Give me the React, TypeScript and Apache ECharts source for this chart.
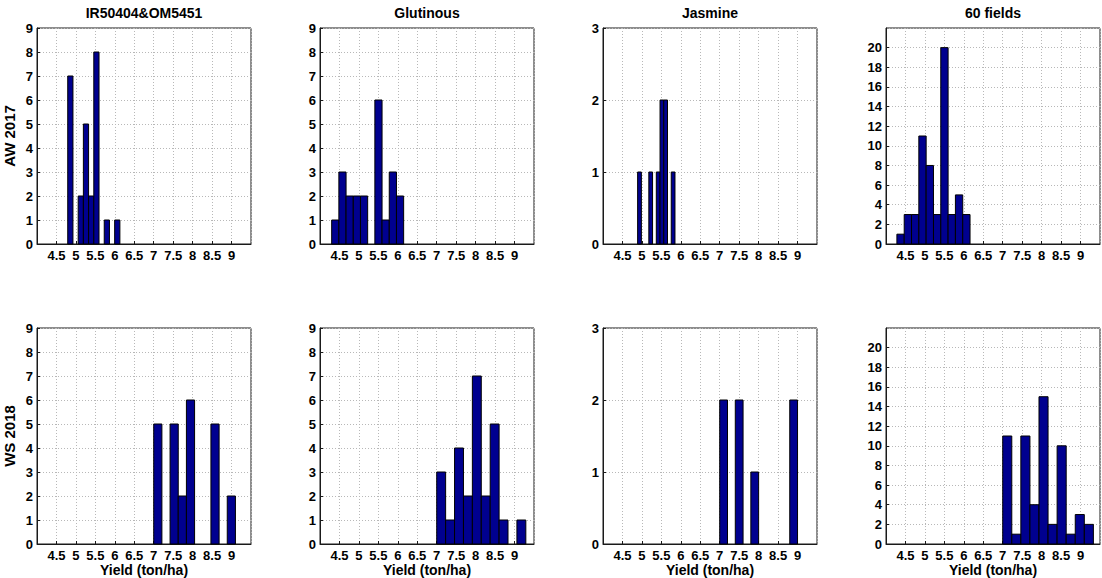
import React, { useEffect, useRef } from "react";
import * as echarts from "echarts";

// Histogram panels: each has 10 equal-width bins spanning [lo, hi]
const titles = ["IR50404&OM5451", "Glutinous", "Jasmine", "60 fields"];
const seasons = ["AW 2017", "WS 2018"];

const aw2017Ranges: [number, number][] = [
  [4.79, 6.13],
  [4.3, 6.15],
  [4.89, 5.85],
  [4.28, 6.16],
];
const aw2017Counts: number[][] = [
  [7, 0, 2, 5, 2, 8, 0, 1, 0, 1],
  [1, 3, 2, 2, 2, 0, 6, 1, 3, 2],
  [1, 0, 0, 1, 0, 1, 2, 2, 0, 1],
  [1, 3, 3, 11, 8, 3, 20, 3, 5, 3],
];

const ws2018Ranges: [number, number][] = [
  [7.0, 9.1],
  [7.0, 9.29],
  [7.0, 9.0],
  [7.0, 9.33],
];
const ws2018Counts: number[][] = [
  [5, 0, 5, 2, 6, 0, 0, 5, 0, 2],
  [3, 1, 4, 2, 7, 2, 5, 1, 0, 1],
  [2, 0, 2, 0, 1, 0, 0, 0, 0, 2],
  [11, 1, 11, 4, 15, 2, 10, 1, 3, 2],
];

// y-axis extent per column
const yMax = [9, 9, 3, 22];
const yStep = [1, 1, 1, 2];

const xMin = 4;
const xMax = 9.5;
const xStep = 0.5;

const BAR_FILL = "#00008f";
const FRAME = "#1a1a1a";
const GRID = "#b8b8b8";
const FONT = "Liberation Sans";

function binsToData(range: [number, number], counts: number[]) {
  const w = (range[1] - range[0]) / counts.length;
  const out: number[][] = [];
  counts.forEach((c, i) => {
    if (c > 0) out.push([range[0] + i * w, range[0] + (i + 1) * w, c]);
  });
  return out;
}

export default function App() {
  const ref = useRef<HTMLDivElement>(null);

  useEffect(() => {
    if (!ref.current) return;
    const chart = echarts.init(ref.current, null, { renderer: "svg" });

    const lefts = [37, 320, 603, 886];
    const tops = [28, 328];
    const w = 214;
    const h = 216;

    const grids: any[] = [];
    const xAxes: any[] = [];
    const yAxes: any[] = [];
    const series: any[] = [];
    const graphics: any[] = [];

    const rows = [
      { ranges: aw2017Ranges, counts: aw2017Counts },
      { ranges: ws2018Ranges, counts: ws2018Counts },
    ];

    rows.forEach((row, r) => {
      for (let c = 0; c < 4; c++) {
        const idx = r * 4 + c;
        grids.push({
          left: lefts[c],
          top: tops[r],
          width: w,
          height: h,
          show: true,
          borderColor: FRAME,
          borderWidth: 1,
          backgroundColor: "#fff",
          containLabel: false,
        });
        xAxes.push({
          type: "value",
          gridIndex: idx,
          min: xMin,
          max: xMax,
          interval: xStep,
          axisLine: { show: true, onZero: false, lineStyle: { color: FRAME } },
          axisTick: { show: true, inside: true, length: 3, lineStyle: { color: FRAME } },
          axisLabel: {
            showMinLabel: false,
            showMaxLabel: false,
            margin: 5,
            color: "#000",
            fontFamily: FONT,
            fontWeight: "bold",
            fontSize: 13,
            formatter: (v: number) => String(v),
          },
          splitLine: {
            show: true,
            lineStyle: { color: GRID, type: [1, 2], width: 1 },
          },
          name: r === 1 ? "Yield (ton/ha)" : "",
          nameLocation: "middle",
          nameGap: 17,
          nameTextStyle: {
            color: "#000",
            fontFamily: FONT,
            fontWeight: "bold",
            fontSize: 14,
          },
        });
        yAxes.push({
          type: "value",
          gridIndex: idx,
          min: 0,
          max: yMax[c],
          interval: yStep[c],
          axisLine: { show: true, lineStyle: { color: FRAME } },
          axisTick: { show: true, inside: true, length: 3, lineStyle: { color: FRAME } },
          axisLabel: {
            showMaxLabel: yMax[c] % 2 === 0 && yStep[c] === 2 ? false : true,
            margin: 4,
            color: "#000",
            fontFamily: FONT,
            fontWeight: "bold",
            fontSize: 13,
          },
          splitLine: {
            show: true,
            lineStyle: { color: GRID, type: [1, 2], width: 1 },
          },
          name: c === 0 ? seasons[r] : "",
          nameLocation: "middle",
          nameRotate: 90,
          nameGap: 20,
          nameTextStyle: {
            color: "#000",
            fontFamily: FONT,
            fontWeight: "bold",
            fontSize: 15,
          },
        });
        series.push({
          type: "custom",
          xAxisIndex: idx,
          yAxisIndex: idx,
          encode: { x: [0, 1], y: 2 },
          data: binsToData(row.ranges[c], row.counts[c]),
          renderItem: (_params: any, api: any) => {
            const p0 = api.coord([api.value(0), api.value(2)]);
            const p1 = api.coord([api.value(1), 0]);
            return {
              type: "rect",
              shape: {
                x: p0[0],
                y: p0[1],
                width: p1[0] - p0[0],
                height: p1[1] - p0[1],
              },
              style: { fill: BAR_FILL, stroke: "#000", lineWidth: 1 },
            };
          },
        });
        if (r === 0) {
          graphics.push({
            type: "text",
            x: lefts[c] + w / 2,
            y: 13,
            style: {
              text: titles[c],
              fill: "#000",
              font: `bold 14px "${FONT}"`,
              align: "center",
              verticalAlign: "middle",
            },
          });
        }
      }
    });

    chart.setOption({
      animation: false,
      backgroundColor: "#fff",
      grid: grids,
      xAxis: xAxes,
      yAxis: yAxes,
      series,
      graphic: graphics,
    });

    return () => chart.dispose();
  }, []);

  return (
    <div
      ref={ref}
      style={{ position: "fixed", left: 0, top: 0, width: 1102, height: 578, background: "#fff" }}
    />
  );
}
